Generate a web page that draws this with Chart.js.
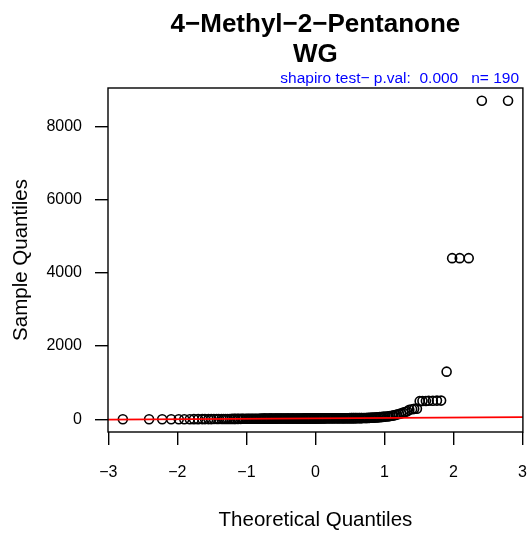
<!DOCTYPE html>
<html>
<head>
<meta charset="utf-8">
<script src="https://cdn.jsdelivr.net/npm/chart.js@4/dist/chart.umd.min.js"></script>
<style>
  body { margin: 0; background: #fff; }
  #wrap { width: 529px; height: 533px; }
</style>
</head>
<body>
<div id="wrap"><canvas id="qq" width="529" height="533"></canvas></div>
<script>
// Theoretical quantiles (x), sorted
const theoQ = [
  -2.79,-2.41,-2.22,-2.09,-1.98,-1.90,-1.82,-1.76,-1.70,-1.64,
  -1.60,-1.55,-1.51,-1.47,-1.43,-1.40,-1.36,-1.33,-1.30,-1.27,
  -1.24,-1.21,-1.18,-1.16,-1.13,-1.11,-1.08,-1.06,-1.04,-1.01,
  -0.99,-0.97,-0.95,-0.93,-0.91,-0.89,-0.87,-0.85,-0.83,-0.81,
  -0.80,-0.78,-0.76,-0.74,-0.73,-0.71,-0.69,-0.67,-0.66,-0.64,
  -0.63,-0.61,-0.59,-0.58,-0.56,-0.55,-0.53,-0.52,-0.50,-0.49,
  -0.47,-0.46,-0.44,-0.43,-0.41,-0.40,-0.39,-0.37,-0.36,-0.34,
  -0.33,-0.32,-0.30,-0.29,-0.27,-0.26,-0.25,-0.23,-0.22,-0.21,
  -0.19,-0.18,-0.17,-0.15,-0.14,-0.13,-0.11,-0.10,-0.09,-0.07,
  -0.06,-0.05,-0.03,-0.02,-0.01,
  0.01,0.02,0.03,0.05,0.06,0.07,0.09,0.10,0.11,0.13,
  0.14,0.15,0.17,0.18,0.19,0.21,0.22,0.23,0.25,0.26,
  0.27,0.29,0.30,0.32,0.33,0.34,0.36,0.37,0.39,0.40,
  0.41,0.43,0.44,0.46,0.47,0.49,0.50,0.52,0.53,0.55,
  0.56,0.58,0.59,0.61,0.63,0.64,0.66,0.67,0.69,0.71,
  0.73,0.74,0.76,0.78,0.80,0.81,0.83,0.85,0.87,0.89,
  0.91,0.93,0.95,0.97,0.99,1.01,1.04,1.06,1.08,1.11,
  1.13,1.16,1.18,1.21,1.24,1.27,1.30,1.33,1.36,1.40,
  1.43,1.47,1.51,1.55,1.60,1.64,1.70,1.76,1.82,1.90,
  1.98,2.09,2.22,2.41,2.79
];

// Sample quantiles (y), sorted
const sampleQ = [
  0,0,0,1,1,2,2,3,3,4,
  4,5,5,6,6,7,7,8,8,9,
  9,10,10,10,11,11,11,12,12,12,
  13,13,13,14,14,14,14,15,15,15,
  15,16,16,16,16,17,17,17,17,17,
  18,18,18,18,18,19,19,19,19,19,
  19,20,20,20,20,20,20,21,21,21,
  21,21,21,21,22,22,22,22,22,22,
  22,22,23,23,23,23,23,23,23,23,
  24,24,24,24,24,
  24,24,24,24,25,25,25,25,25,25,
  25,26,26,26,26,26,26,26,27,27,
  27,27,27,27,27,28,28,28,28,28,
  28,29,29,29,29,29,30,30,30,30,
  30,30,31,31,31,31,32,32,33,34,
  35,36,37,38,40,42,44,46,48,51,
  54,57,60,64,68,72,77,82,88,95,
  105,115,130,145,160,180,200,220,260,275,
  285,290,495,500,500,505,505,510,510,1300,
  4400,4400,4400,8700,8700
];

const xTicks = [-3, -2, -1, 0, 1, 2, 3];
const yTicks = [0, 2000, 4000, 6000, 8000];
const titleLines = ["4\u2212Methyl\u22122\u2212Pentanone", "WG"];
const testText = "shapiro test\u2212 p.val:  0.000   n= 190";

const FONT = "'Liberation Sans', Arial, Helvetica, sans-serif";
const X_MIN = -3.005, X_MAX = 3.005;

// qqline: through the 1st and 3rd quartiles (R quantile type 7)
function quantile(arr, p) {
  const s = [...arr].sort((a, b) => a - b);
  const h = (s.length - 1) * p;
  const lo = Math.floor(h);
  return s[lo] + (h - lo) * ((s[lo + 1] ?? s[lo]) - s[lo]);
}
const q1 = quantile(sampleQ, 0.25), q3 = quantile(sampleQ, 0.75);
const z1 = -0.6745, z3 = 0.6745;
const slope = (q3 - q1) / (z3 - z1);
const icept = q1 - slope * z1;

const points = theoQ.map((x, i) => ({ x, y: sampleQ[i] }));
const qqLine = [X_MIN, X_MAX].map(x => ({ x, y: icept + slope * x }));

const minus = v => (v < 0 ? "\u2212" + Math.abs(v) : String(v));

// box round the plot region + titles
const frame = {
  id: "frame",
  afterDraw(chart) {
    const { ctx, chartArea: a } = chart;
    ctx.save();
    ctx.strokeStyle = "#000";
    ctx.lineWidth = 1.4;
    ctx.strokeRect(a.left, a.top, a.right - a.left, a.bottom - a.top);

    const cx = (a.left + a.right) / 2;
    ctx.fillStyle = "#000";
    ctx.textAlign = "center";
    ctx.textBaseline = "alphabetic";
    ctx.font = "bold 26px " + FONT;
    ctx.fillText(titleLines[0], cx, 32);
    ctx.fillText(titleLines[1], cx, 62);

    ctx.fillStyle = "#0000ff";
    ctx.textAlign = "right";
    ctx.font = "15.5px " + FONT;
    ctx.fillText(testText, 519, 83);
    ctx.restore();
  }
};

new Chart(document.getElementById("qq"), {
  type: "scatter",
  data: {
    datasets: [
      {
        type: "line",
        data: qqLine,
        borderColor: "#ff0000",
        borderWidth: 1.6,
        pointRadius: 0,
        fill: false
      },
      {
        data: points,
        pointStyle: "circle",
        pointRadius: 4.5,
        pointBorderWidth: 1.6,
        pointBorderColor: "#000",
        pointBackgroundColor: "rgba(0,0,0,0)"
      }
    ]
  },
  options: {
    responsive: false,
    animation: false,
    layout: { padding: { top: 88, right: 3, left: 0, bottom: 0 } },
    plugins: { legend: { display: false }, tooltip: { enabled: false } },
    scales: {
      x: {
        type: "linear",
        min: X_MIN, max: X_MAX,
        afterBuildTicks: s => { s.ticks = xTicks.map(v => ({ value: v })); },
        afterFit: s => { s.height = 101; s.paddingLeft = 0; s.paddingRight = 0; },
        border: { display: false },
        grid: { drawOnChartArea: false, tickLength: 13, color: "#000", lineWidth: 1.4 },
        ticks: {
          autoSkip: false, maxRotation: 0, padding: 18, color: "#000",
          font: { family: FONT, size: 16 },
          callback: v => minus(v)
        },
        title: {
          display: true, text: "Theoretical Quantiles", color: "#000",
          font: { family: FONT, size: 20.5 }, padding: { bottom: 0, top: 0 }
        }
      },
      y: {
        type: "linear",
        min: -348, max: 9048,
        afterBuildTicks: s => { s.ticks = yTicks.map(v => ({ value: v })); },
        afterFit: s => { s.width = 108; s.paddingTop = 0; s.paddingBottom = 0; },
        border: { display: false },
        grid: { drawOnChartArea: false, tickLength: 13, color: "#000", lineWidth: 1.4 },
        ticks: {
          autoSkip: false, padding: 13, color: "#000",
          font: { family: FONT, size: 16 },
          callback: v => minus(v)
        },
        title: {
          display: true, text: "Sample Quantiles", color: "#000",
          font: { family: FONT, size: 20.5 }, padding: { top: 9, bottom: 0 }
        }
      }
    }
  },
  plugins: [frame]
});
</script>
</body>
</html>
